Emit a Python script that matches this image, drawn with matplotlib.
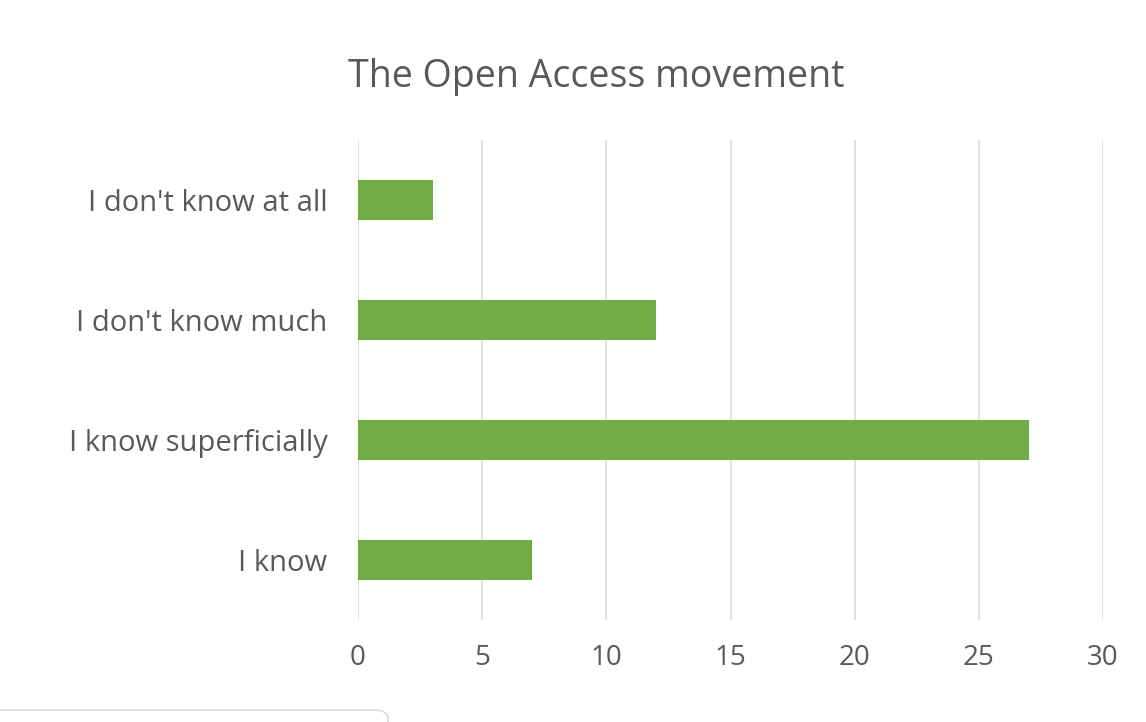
import matplotlib.pyplot as plt
from matplotlib.patches import FancyBboxPatch

plt.rcParams['font.family'] = ['Open Sans', 'DejaVu Sans']

categories = ["I know", "I know superficially", "I don't know much", "I don't know at all"]
values = [7, 27, 12, 3]
xticks = [0, 5, 10, 15, 20, 25, 30]

fig = plt.figure(figsize=(11.46, 7.22), dpi=100)
ax = fig.add_axes([358/1146, 1 - 620/722, (1103 - 358)/1146, (620 - 140)/722])

ax.barh(range(len(categories)), values, height=0.34, color='#70AD47', zorder=3)
ax.set_ylim(-0.5, len(categories) - 0.5)
ax.set_xlim(0, 30)
ax.set_xticks(xticks)
ax.set_yticks(range(len(categories)))
ax.set_yticklabels(categories)
ax.grid(axis='x', color='#D9D9D9', linewidth=1.1, zorder=0)
for s in ax.spines.values():
    s.set_visible(False)
ax.tick_params(axis='both', length=0, colors='#595959')
ax.tick_params(axis='x', pad=17.5, labelsize=20)
ax.tick_params(axis='y', pad=22, labelsize=21)

fig.text(596/1146, 1 - 77/722, "The Open Access movement", ha='center', va='center',
         fontsize=27, color='#595959')

# bit of the next element peeking in at the bottom
box = FancyBboxPatch((-10/1146, 1 - 740/722), 398/1146, 30/722,
                     boxstyle="round,pad=0,rounding_size=0.012",
                     transform=fig.transFigure, facecolor='white',
                     edgecolor='#D9D9D9', linewidth=1.2)
fig.patches.append(box)

fig.savefig('out.png', dpi=100)
